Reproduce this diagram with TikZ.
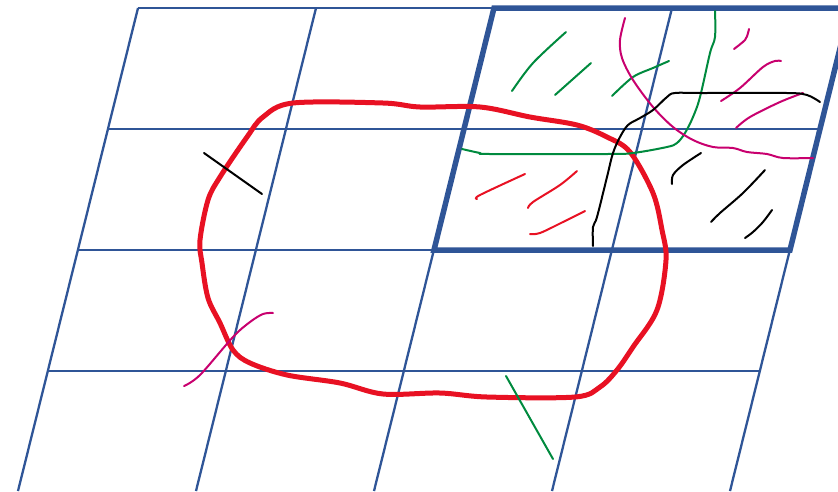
\documentclass[tikz,border=0pt]{standalone}
\usepackage{xcolor}
\usepackage{tikz}
\definecolor{gridblue}{RGB}{47,85,151}
\definecolor{zonered}{RGB}{232,17,35}
\definecolor{inkgreen}{RGB}{0,138,62}
\definecolor{inkmagenta}{RGB}{200,0,110}

\begin{document}
\begin{tikzpicture}[x=1pt, y=-1pt,
    gridline/.style={gridblue, line width=2.3pt},
    framebox/.style={gridblue, line width=5.5pt, line join=miter},
    zone/.style={zonered, line width=5pt, line join=round},
    stroke/.style={line width=2pt, line cap=round, line join=round},
    tension=0.55]
  \useasboundingbox (0,0) rectangle (838,491);
  \clip (0,0) rectangle (838,491);
  % slanted columns
  \foreach \c in {0,...,4}
    \draw[gridline] ({138+178*\c},8) -- ({18+178*\c},491);
  % rows
  \foreach \r in {0,...,3}
    \draw[gridline] ({138-30*\r},{8+121*\r}) -- ({850-30*\r},{8+121*\r});
  % highlighted block of four cells
  \draw[framebox] (494,8) -- (850,8) -- (790,250) -- (434,250) -- cycle;
  % the red region
  \draw[zone] plot[smooth cycle] coordinates {
    (293,103) (383,103) (420,107) (480,107) (530,117) (577,125) (607,137)
    (630,152) (653,193) (662,230) (666,260) (657,310) (633,347) (617,370)
    (600,387) (575,397) (487,397) (440,393) (383,394) (340,383) (287,375)
    (250,363) (233,350) (220,323) (208,298) (202,263) (200,240) (208,200)
    (220,177) (247,137) (263,117)};
  % strokes outside the block
  \draw[stroke, black] (204,153) -- (262,194);
  \draw[stroke, inkmagenta] plot[smooth] coordinates {
    (184,386) (200,375) (233,337) (250,322) (263,314) (273,313)};
  \draw[stroke, inkgreen] (506,376) -- (553,459);
  % green strokes
  \draw[stroke, inkgreen] plot[smooth] coordinates {(512,91) (533,63) (566,32)};
  \draw[stroke, inkgreen] (555,95) -- (591,63);
  \draw[stroke, inkgreen] plot[smooth] coordinates {(612,96) (633,77) (653,68) (669,61)};
  \draw[stroke, inkgreen] plot[smooth] coordinates {
    (715,11) (715,37) (710,53) (700,97) (693,117) (685,133) (677,143)
    (667,147) (633,153) (607,154) (490,154) (480,153) (462,149)};
  % red strokes
  \draw[stroke, zonered] plot[smooth] coordinates {(477,199) (480,195) (525,174)};
  \draw[stroke, zonered] plot[smooth] coordinates {(528,208) (533,202) (560,185) (577,171)};
  \draw[stroke, zonered] plot[smooth] coordinates {(530,234) (540,233) (563,222) (585,211)};
  % magenta strokes
  \draw[stroke, inkmagenta] plot[smooth] coordinates {
    (625,18) (620,40) (622,58) (633,80) (653,107) (673,127) (693,140)
    (713,147) (733,148) (747,152) (767,154) (783,158) (813,158)};
  \draw[stroke, inkmagenta] plot[smooth] coordinates {(734,49) (745,40) (748,33) (749,29)};
  \draw[stroke, inkmagenta] plot[smooth] coordinates {(721,101) (740,88) (763,67) (775,61) (781,61)};
  \draw[stroke, inkmagenta] plot[smooth] coordinates {(736,128) (750,117) (780,102) (803,93)};
  % black strokes
  \draw[stroke, black] plot[smooth] coordinates {
    (593,246) (593,227) (597,217) (607,177) (613,153) (620,137) (628,125)
    (640,118) (653,110) (667,97) (675,93) (703,93) (787,93) (807,95) (820,102)};
  \draw[stroke, black] plot[smooth] coordinates {(672,184) (673,175) (683,165) (701,153)};
  \draw[stroke, black] plot[smooth] coordinates {(711,222) (720,213) (743,193) (765,170)};
  \draw[stroke, black] plot[smooth] coordinates {(745,238) (753,232) (763,222) (772,210)};
\end{tikzpicture}
\end{document}
